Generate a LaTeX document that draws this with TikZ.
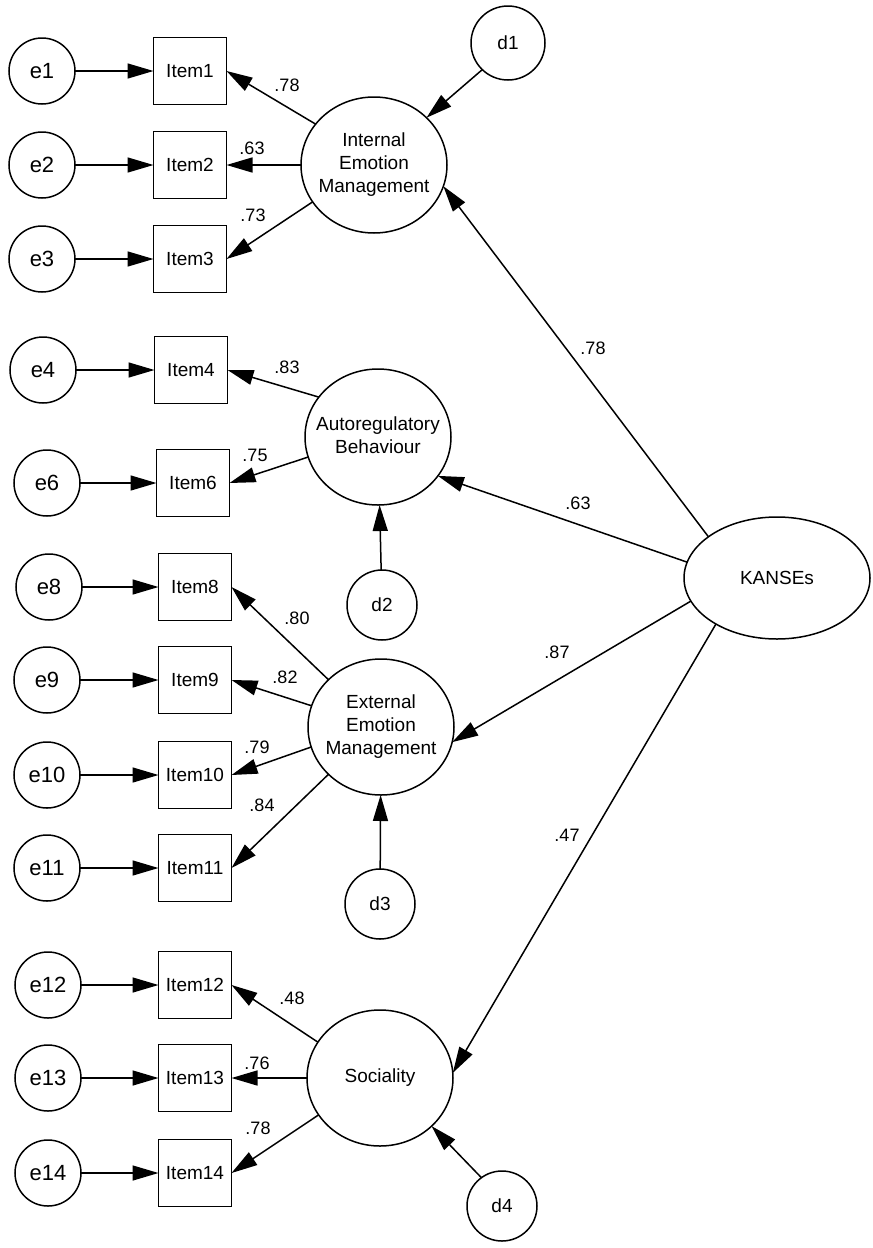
\documentclass[tikz,border=0pt]{standalone}
\usepackage{fontspec}
\setmainfont{Liberation Sans}
\usetikzlibrary{arrows.meta,shapes.geometric}
\newcommand{\latxt}[1]{\makebox[0pt]{\begin{tabular}{@{}c@{}}#1\end{tabular}}}
\begin{document}
\begin{tikzpicture}[x=1pt,y=-1pt,
  every node/.style={inner sep=0pt,outer sep=0pt},
  errc/.style={draw,circle,line width=1.5pt,minimum size=66pt,font=\fontsize{22}{24}\selectfont},
  distc/.style={draw,circle,line width=1.5pt,minimum size=70pt,font=\fontsize{19}{21}\selectfont},
  itembox/.style={draw,rectangle,line width=1.5pt,minimum width=73pt,minimum height=67pt,font=\fontsize{19}{21}\selectfont},
  latent/.style={draw,ellipse,line width=1.5pt,minimum width=146pt,minimum height=136pt,font=\fontsize{19}{23}\selectfont},
  coef/.style={font=\fontsize{18}{20}\selectfont},
  arr/.style={line width=1.5pt,-{Triangle[length=26pt,width=15pt]}}
]
\useasboundingbox (0,0) rectangle (873,1248);
% error terms
\node[errc] (e1) at (42,71) {e1};
\node[errc] (e2) at (42,165) {e2};
\node[errc] (e3) at (42,259) {e3};
\node[errc] (e4) at (43,370) {e4};
\node[errc] (e6) at (47,483) {e6};
\node[errc] (e8) at (49,587) {e8};
\node[errc] (e9) at (47,680) {e9};
\node[errc] (e10) at (47,775) {e10};
\node[errc] (e11) at (47,868) {e11};
\node[errc] (e12) at (48,985) {e12};
\node[errc] (e13) at (48,1078) {e13};
\node[errc] (e14) at (48,1173) {e14};
% items
\node[itembox] (i1) at (190,71) {Item1};
\node[itembox] (i2) at (190,165) {Item2};
\node[itembox] (i3) at (190,259) {Item3};
\node[itembox] (i4) at (191,370) {Item4};
\node[itembox] (i6) at (193,483) {Item6};
\node[itembox] (i8) at (195,587) {Item8};
\node[itembox] (i9) at (195,680) {Item9};
\node[itembox] (i10) at (195,775) {Item10};
\node[itembox] (i11) at (195,868) {Item11};
\node[itembox] (i12) at (195,985) {Item12};
\node[itembox] (i13) at (195,1078) {Item13};
\node[itembox] (i14) at (195,1173) {Item14};
% latent factors
\node[latent] (iem) at (374,165) {\latxt{Internal\\Emotion\\Management}};
\node[latent] (ab) at (378,437) {\latxt{Autoregulatory\\Behaviour}};
\node[latent] (eem) at (381,727) {\latxt{External\\Emotion\\Management}};
\node[latent] (soc) at (380,1078) {\latxt{Sociality}};
\node[draw,ellipse,line width=1.5pt,minimum width=186pt,minimum height=122pt,font=\fontsize{19}{21}\selectfont] (k) at (777,578) {KANSEs};
% disturbances
\node[distc,minimum size=74pt] (d1) at (508,43) {d1};
\node[distc] (d2) at (382,605) {d2};
\node[distc] (d3) at (380,904) {d3};
\node[distc] (d4) at (502,1206) {d4};
% error arrows
\foreach \n in {1,2,3,4,6,8,9,10,11,12,13,14}
  \draw[arr] (e\n) -- (i\n);
% loadings
\draw[arr] (iem.145) -- (i1.east);
\draw[arr] (iem.west) -- (i2.east);
\draw[arr] (iem.211) -- (i3.east);
\draw[arr] (ab.146) -- (i4.east);
\draw[arr] (ab.196) -- (i6.east);
\draw[arr] (eem.138) -- (i8.east);
\draw[arr] (eem.163) -- (i9.east);
\draw[arr] (eem.196) -- (i10.east);
\draw[arr] (eem.222) -- (i11.east);
\draw[arr] (soc.150) -- (i12.east);
\draw[arr] (soc.west) -- (i13.east);
\draw[arr] (soc.211) -- (i14.east);
% structural paths
\draw[arr] (k.149.6) -- (iem.-17);
\draw[arr] (k.170.7) -- (ab.-33.5);
\draw[arr] (k.195) -- (eem.-12);
\draw[arr] (k.217) -- (soc.4.7);
% disturbance paths
\draw[arr] (d1.226) -- (iem.42.8);
\draw[arr] (d2) -- (ab);
\draw[arr] (d3) -- (eem);
\draw[arr] (d4.126) -- (soc.-43);
% coefficients
\node[coef] (c1) at (287,85) {.78};
\node[coef] (c2) at (252,148) {.63};
\node[coef] (c3) at (253,215) {.73};
\node[coef] (c4) at (287,367) {.83};
\node[coef] (c6) at (255,455) {.75};
\node[coef] (c8) at (297,618) {.80};
\node[coef] (c9) at (285,677) {.82};
\node[coef] (c10) at (257,747) {.79};
\node[coef] (c11) at (262,805) {.84};
\node[coef] (c12) at (292,998) {.48};
\node[coef] (c13) at (257,1063) {.76};
\node[coef] (c14) at (258,1128) {.78};
\node[coef] (s1) at (593,348) {.78};
\node[coef] (s2) at (578,503) {.63};
\node[coef] (s3) at (557,652) {.87};
\node[coef] (s4) at (567,835) {.47};
\end{tikzpicture}
\end{document}
